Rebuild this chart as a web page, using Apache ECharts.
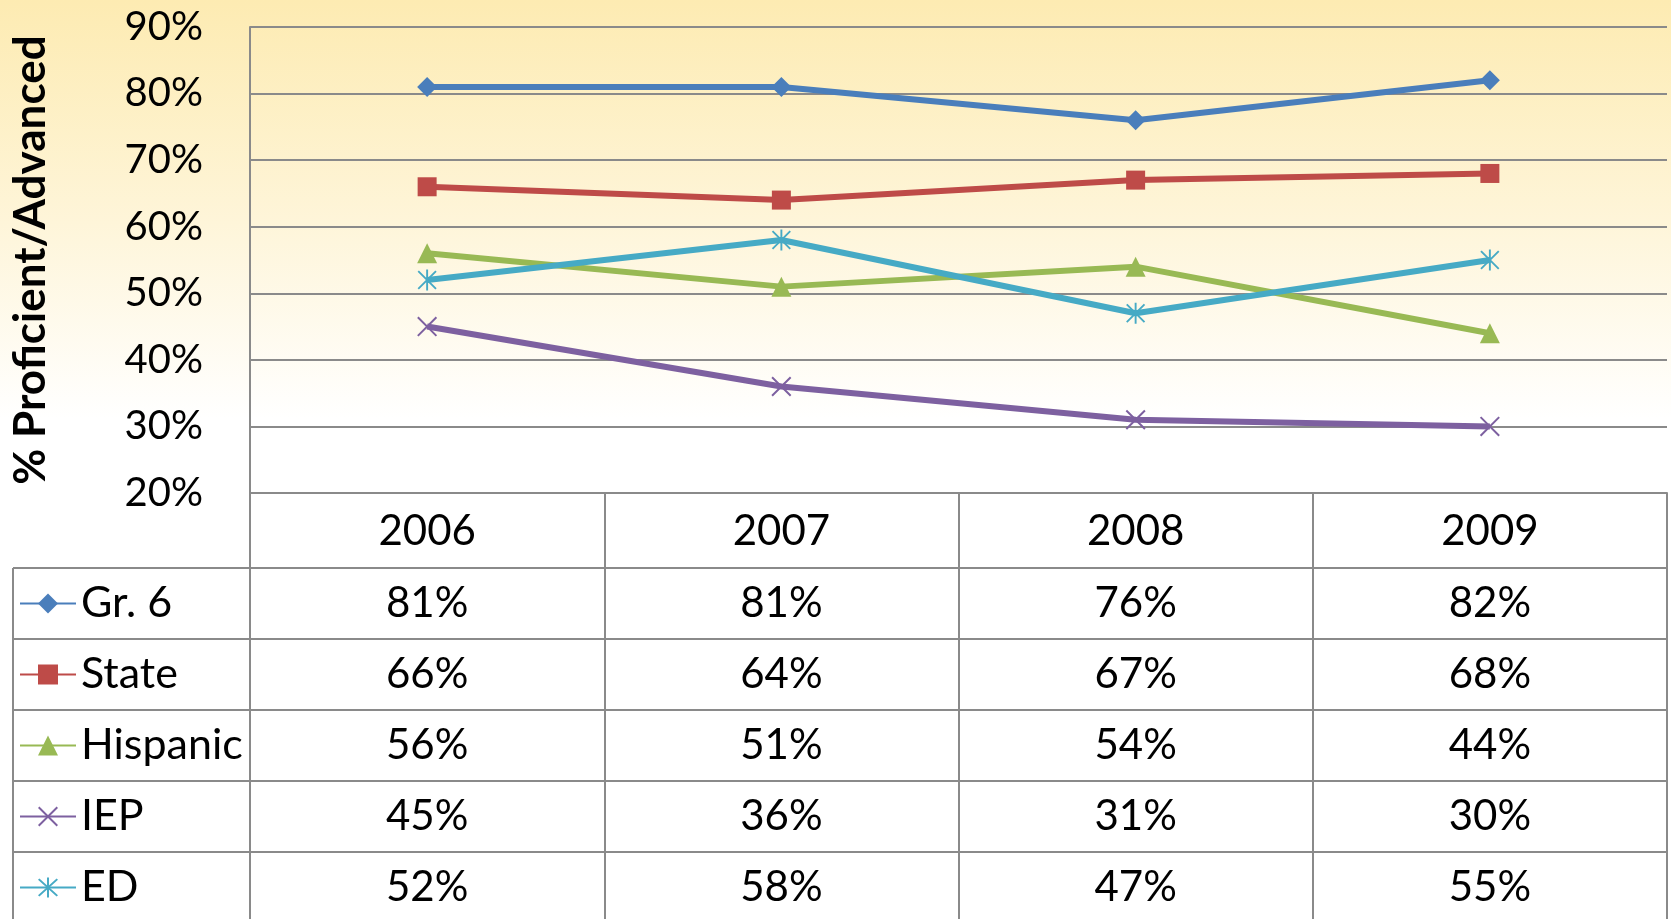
<!DOCTYPE html>
<html><head><meta charset="utf-8">
<script src="https://cdn.jsdelivr.net/npm/echarts@6/dist/echarts.min.js"></script>
<style>html,body{margin:0;padding:0;background:#fff}#c{width:1671px;height:919px}</style>
</head><body><div id="c"></div><script>
// ---- data ----
const years = ['2006', '2007', '2008', '2009'];
const seriesNames = ['Gr. 6', 'State', 'Hispanic', 'IEP', 'ED'];
const gr6 = [81, 81, 76, 82];
const state = [66, 64, 67, 68];
const hispanic = [56, 51, 54, 44];
const iep = [45, 36, 31, 30];
const ed = [52, 58, 47, 55];
const yMin = 20, yMax = 90, yStep = 10;
const yTitle = '% Proficient/Advanced';

// ---- styles / layout ----
const FONT = 'Lato';
const colors = ['#4A7EBB', '#BE4B48', '#98B954', '#7D60A0', '#46AAC5'];
const X_PATH = 'M0,1.4L1.4,0L20,18.6L18.6,20Z M18.6,0L20,1.4L1.4,20L0,18.6Z';
const symbols = ['diamond', 'rect', 'triangle',
  'path://' + X_PATH,
  'path://' + X_PATH + ' M9,-1L11,-1L11,21L9,21Z'];
const symbolSizes = [20, 19, 20, 20, 21];
const GRID_L = 250, GRID_R = 4, GRID_T = 27, AXIS_Y = 493;
const HEAD_H = 75, ROW_H = 71, TABLE_L = 13;
const GRAY = '#8A8A8A';

const rows = [gr6, state, hispanic, iep, ed];

const chart = echarts.init(document.getElementById('c'), null, {renderer: 'canvas'});

const xAxes = [{
  type: 'category', data: years, position: 'bottom', gridIndex: 0,
  axisLine: {show: true, lineStyle: {color: GRAY, width: 2}},
  axisTick: {show: true, interval: 0, length: HEAD_H, lineStyle: {color: GRAY, width: 2}},
  axisLabel: {interval: 0, fontFamily: FONT, fontSize: 42, color: '#000', margin: HEAD_H / 2 + 1, verticalAlign: 'middle'},
  splitLine: {show: false}
}];
rows.forEach((vals, i) => {
  xAxes.push({
    type: 'category', data: years, position: 'bottom', gridIndex: 0,
    offset: HEAD_H + i * ROW_H,
    axisLine: {show: true, lineStyle: {color: GRAY, width: 2}},
    axisTick: {show: true, interval: 0, length: ROW_H, lineStyle: {color: GRAY, width: 2}},
    axisLabel: {interval: 0, fontFamily: FONT, fontSize: 42, color: '#000', margin: ROW_H / 2, verticalAlign: 'middle',
      formatter: (v, idx) => vals[idx] + '%'},
    splitLine: {show: false}
  });
});

const series = rows.map((vals, i) => ({
  name: seriesNames[i], type: 'line', data: vals, xAxisIndex: 0, yAxisIndex: 0,
  symbol: symbols[i], symbolSize: symbolSizes[i], symbolKeepAspect: true,
  lineStyle: {color: colors[i], width: 6},
  itemStyle: {color: colors[i]},
  emphasis: {disabled: true},
  z: 3 + i, animation: false
}));

const graphics = [
  {type: 'rect', z: -10, silent: true, shape: {x: 0, y: 0, width: 1671, height: AXIS_Y},
   style: {fill: new echarts.graphic.LinearGradient(0, 0, 0, 1, [
     {offset: 0, color: '#FDEBB2'}, {offset: 0.45, color: '#FEF5D9'}, {offset: 0.85, color: '#FFFFFF'}, {offset: 1, color: '#FFFFFF'}])}},
  {type: 'line', silent: true, shape: {x1: TABLE_L, y1: AXIS_Y + HEAD_H, x2: TABLE_L, y2: 919},
   style: {stroke: GRAY, lineWidth: 2}}
];
rows.forEach((v, i) => {
  const y = AXIS_Y + HEAD_H + i * ROW_H;
  graphics.push({type: 'line', silent: true, shape: {x1: TABLE_L, y1: y, x2: GRID_L, y2: y},
    style: {stroke: GRAY, lineWidth: 2}});
});

chart.setOption({
  animation: false,
  backgroundColor: '#fff',
  grid: {left: GRID_L, right: GRID_R, top: GRID_T, bottom: 919 - AXIS_Y, containLabel: false, outerBoundsMode: 'none'},
  xAxis: xAxes,
  yAxis: {
    type: 'value', min: yMin, max: yMax, interval: yStep,
    name: yTitle, nameLocation: 'middle', nameGap: 197, nameRotate: 90,
    nameTextStyle: {fontFamily: FONT, fontWeight: 'bold', fontSize: 44, color: '#000'},
    axisLine: {show: true, lineStyle: {color: GRAY, width: 2}},
    axisTick: {show: false},
    axisLabel: {fontFamily: FONT, fontSize: 40, color: '#000', margin: 47, formatter: '{value}%'},
    splitLine: {show: true, lineStyle: {color: GRAY, width: 2}}
  },
  legend: {
    orient: 'vertical', left: 19, top: AXIS_Y + HEAD_H, height: 400, padding: 0, itemGap: 0,
    itemWidth: 56, itemHeight: 25, selectedMode: false,
    textStyle: {fontFamily: FONT, fontSize: 43, color: '#000', lineHeight: ROW_H, padding: [0, 0, 0, 0]},
    data: seriesNames
  },
  graphic: graphics,
  series: series
});
</script></body></html>
